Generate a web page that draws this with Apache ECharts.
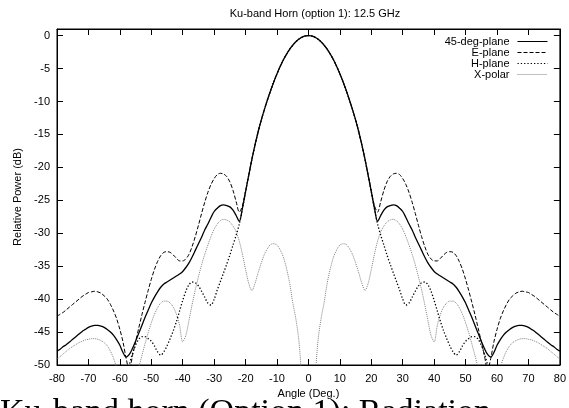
<!DOCTYPE html>
<html>
<head>
<meta charset="utf-8">
<script src="https://cdn.jsdelivr.net/npm/echarts@6/dist/echarts.min.js"></script>
<style>
html,body{margin:0;padding:0;background:#fff;}
#chart{width:569px;height:408px;}
</style>
</head>
<body>
<div id="chart"></div>
<script>
var titleText = "Ku-band Horn (option 1): 12.5 GHz";
var captionText = "Ku-band horn (Option 1): Radiation";
var xName = "Angle (Deg.)";
var yName = "Relative Power (dB)";
var seriesNames = ["45-deg-plane", "E-plane", "H-plane", "X-polar"];

var angles = [-80,-79,-78,-77,-76,-75,-74,-73,-72,-71,-70,-69,-68,-67,-66,-65,-64,-63,-62,-61,
-60,-59,-58,-57,-56,-55,-54,-53,-52,-51,-50,-49,-48,-47,-46,-45,-44,-43,-42,-41,
-40,-39,-38,-37,-36,-35,-34,-33,-32,-31,-30,-29,-28,-27,-26,-25,-24,-23,-22,-21,
-20,-19,-18,-17,-16,-15,-14,-13,-12,-11,-10,-9,-8,-7,-6,-5,-4,-3,-2,-1,
0,1,2,3,4,5,6,7,8,9,10,11,12,13,14,15,16,17,18,19,
20,21,22,23,24,25,26,27,28,29,30,31,32,33,34,35,36,37,38,39,
40,41,42,43,44,45,46,47,48,49,50,51,52,53,54,55,56,57,58,59,
60,61,62,63,64,65,66,67,68,69,70,71,72,73,74,75,76,77,78,79,80];

var plane45 = [
-47.9,-47.6,-47.2,-46.9,-46.5,-46.1,-45.7,-45.3,-44.9,-44.6,
-44.3,-44.1,-44.0,-44.0,-44.1,-44.3,-44.6,-45.0,-45.5,-46.2,
-47.0,-48.1,-48.8,-48.4,-47.5,-46.4,-45.2,-44.0,-42.8,-41.7,
-40.6,-39.7,-38.9,-38.2,-37.7,-37.4,-37.1,-36.8,-36.5,-36.2,
-35.8,-35.2,-34.5,-33.6,-32.6,-31.6,-30.6,-29.5,-28.6,-27.6,
-26.7,-26.2,-25.8,-25.7,-25.8,-26.0,-26.5,-27.3,-28.2,-26.2,
-23.7,-21.2,-18.8,-16.6,-14.6,-12.8,-11.2,-9.7,-8.3,-7.0,
-5.8,-4.7,-3.7,-2.85,-2.1,-1.47,-0.94,-0.53,-0.24,-0.06,
0,
-0.06,-0.24,-0.53,-0.94,-1.47,-2.1,-2.85,-3.7,-4.7,-5.8,
-7.0,-8.3,-9.7,-11.2,-12.8,-14.6,-16.6,-18.8,-21.2,-23.7,
-26.2,-28.2,-27.3,-26.5,-26.0,-25.8,-25.7,-25.8,-26.2,-26.7,
-27.6,-28.6,-29.5,-30.6,-31.6,-32.6,-33.6,-34.5,-35.2,-35.8,
-36.2,-36.5,-36.8,-37.1,-37.4,-37.7,-38.2,-38.9,-39.7,-40.6,
-41.7,-42.8,-44.0,-45.2,-46.4,-47.5,-48.4,-48.8,-48.1,-47.0,
-46.2,-45.5,-45.0,-44.6,-44.3,-44.1,-44.0,-44.0,-44.1,-44.3,
-44.6,-44.9,-45.3,-45.7,-46.1,-46.5,-46.9,-47.2,-47.6,-47.9];

var ePlane = [
-42.6,-42.3,-42.0,-41.6,-41.2,-40.8,-40.4,-40.0,-39.6,-39.3,
-39.0,-38.9,-38.8,-38.9,-39.1,-39.5,-40.0,-40.8,-41.8,-43.0,
-44.6,-46.5,-49.0,-50.8,-48.6,-46.5,-44.4,-42.4,-40.5,-38.7,
-37.0,-35.5,-34.3,-33.4,-32.9,-32.8,-32.9,-33.3,-33.8,-34.2,
-34.2,-33.9,-33.2,-32.0,-30.5,-28.8,-27.0,-25.3,-23.8,-22.6,
-21.7,-21.1,-20.9,-21.0,-21.4,-22.2,-23.5,-25.2,-26.8,-25.8,
-23.6,-21.2,-18.8,-16.6,-14.6,-12.8,-11.2,-9.7,-8.3,-7.0,
-5.8,-4.7,-3.7,-2.85,-2.1,-1.47,-0.94,-0.53,-0.24,-0.06,
0,
-0.06,-0.24,-0.53,-0.94,-1.47,-2.1,-2.85,-3.7,-4.7,-5.8,
-7.0,-8.3,-9.7,-11.2,-12.8,-14.6,-16.6,-18.8,-21.2,-23.6,
-25.8,-26.8,-25.2,-23.5,-22.2,-21.4,-21.0,-20.9,-21.1,-21.7,
-22.6,-23.8,-25.3,-27.0,-28.8,-30.5,-32.0,-33.2,-33.9,-34.2,
-34.2,-33.8,-33.3,-32.9,-32.8,-32.9,-33.4,-34.3,-35.5,-37.0,
-38.7,-40.5,-42.4,-44.4,-46.5,-48.6,-50.8,-49.0,-46.5,-44.6,
-43.0,-41.8,-40.8,-40.0,-39.5,-39.1,-38.9,-38.8,-38.9,-39.0,
-39.3,-39.6,-40.0,-40.4,-40.8,-41.2,-41.6,-42.0,-42.3,-42.6];

var hPlane = [
-55,-55,-55,-55,-55,-55,-55,-55,-55,-55,
-55,-55,-55,-55,-55,-55,-55,-55,-55,-55,
-55,-54,-52.0,-50.0,-48.3,-47.0,-46.1,-45.7,-45.7,-46.0,
-46.4,-47.1,-48.0,-48.5,-48.0,-47.1,-46.0,-44.8,-43.4,-41.8,
-40.2,-38.8,-37.8,-37.4,-37.5,-38.0,-38.8,-39.7,-40.6,-40.9,
-40.0,-38.6,-37.3,-36.0,-34.7,-33.3,-31.8,-30.3,-28.6,-26.3,
-23.7,-21.2,-18.8,-16.6,-14.6,-12.8,-11.2,-9.7,-8.3,-7.0,
-5.8,-4.7,-3.7,-2.85,-2.1,-1.47,-0.94,-0.53,-0.24,-0.06,
0,
-0.06,-0.24,-0.53,-0.94,-1.47,-2.1,-2.85,-3.7,-4.7,-5.8,
-7.0,-8.3,-9.7,-11.2,-12.8,-14.6,-16.6,-18.8,-21.2,-23.7,
-26.3,-28.6,-30.3,-31.8,-33.3,-34.7,-36.0,-37.3,-38.6,-40.0,
-40.9,-40.6,-39.7,-38.8,-38.0,-37.5,-37.4,-37.8,-38.8,-40.2,
-41.8,-43.4,-44.8,-46.0,-47.1,-48.0,-48.5,-48.0,-47.1,-46.4,
-46.0,-45.7,-45.7,-46.1,-47.0,-48.3,-50.0,-52.0,-54,-55,
-55,-55,-55,-55,-55,-55,-55,-55,-55,-55,
-55,-55,-55,-55,-55,-55,-55,-55,-55,-55];

var xPolar = [
-49.1,-48.7,-48.3,-47.9,-47.5,-47.2,-46.9,-46.6,-46.4,-46.2,
-46.1,-46.0,-46.0,-46.1,-46.3,-46.6,-47.1,-47.9,-49.0,-50.5,
-53,-56,-58,-58,-56,-53,-50.5,-48.6,-46.8,-45.1,
-43.6,-42.3,-41.3,-40.6,-40.3,-40.3,-40.6,-41.2,-42.3,-44.0,
-46.5,-45.5,-43.2,-40.8,-38.6,-36.6,-34.8,-33.2,-31.8,-30.5,
-29.4,-28.6,-28.1,-27.9,-28.0,-28.3,-28.9,-29.8,-31.2,-33.2,
-35.5,-37.6,-38.7,-37.6,-36.0,-34.5,-33.2,-32.3,-31.7,-31.6,
-31.8,-32.5,-33.6,-35.3,-37.5,-40.5,-43.0,-46.5,-53,-60,
-65,
-60,-53,-46.5,-43.0,-40.5,-37.5,-35.3,-33.6,-32.5,-31.8,
-31.6,-31.7,-32.3,-33.2,-34.5,-36.0,-37.6,-38.7,-37.6,-35.5,
-33.2,-31.2,-29.8,-28.9,-28.3,-28.0,-27.9,-28.1,-28.6,-29.4,
-30.5,-31.8,-33.2,-34.8,-36.6,-38.6,-40.8,-43.2,-45.5,-46.5,
-44.0,-42.3,-41.2,-40.6,-40.3,-40.3,-40.6,-41.3,-42.3,-43.6,
-45.1,-46.8,-48.6,-50.5,-53,-56,-58,-58,-56,-53,
-50.5,-49.0,-47.9,-47.1,-46.6,-46.3,-46.1,-46.0,-46.0,-46.1,
-46.2,-46.4,-46.6,-46.9,-47.2,-47.5,-47.9,-48.3,-48.7,-49.1];

function pairs(vals){ return angles.map(function(a,i){ return [a, vals[i]]; }); }

var FONT = "Liberation Sans";
var chart = echarts.init(document.getElementById('chart'), null, {renderer:'canvas'});

var lineStyles = [
  {color:'#000', width:1.3, type:'solid'},
  {color:'#000', width:1, type:[4,2]},
  {color:'#000', width:1.3, type:[1.3,2]},
  {color:'#808080', width:1, type:[1,1]}
];
var values = [plane45, ePlane, hPlane, xPolar];

var series = seriesNames.map(function(n,i){
  return {
    name:n, type:'line', data:pairs(values[i]), showSymbol:false, symbol:'none',
    smooth:0.3, clip:true, animation:false,
    lineStyle:lineStyles[i], itemStyle:{color:lineStyles[i].color},
    z: 10 - i
  };
});

var axisCommonX = {type:'value', min:-80, max:80, interval:10};
chart.setOption({
  animation:false,
  backgroundColor:'#fff',
  title:{text:titleText, left:310, top:3, textAlign:'center',
    textStyle:{fontFamily:FONT, fontSize:11, fontWeight:'normal', color:'#000'}},
  grid:{left:57, right:5, top:29, bottom:43, show:true, borderColor:'#000', borderWidth:1},
  legend:{orient:'vertical', right:21, top:36, padding:0, align:'right', itemWidth:30, itemHeight:8, itemGap:0,
    itemStyle:{opacity:0},
    lineStyle:{width:1},
    textStyle:{fontFamily:FONT, fontSize:11, color:'#000', lineHeight:11, padding:[0,3,0,0]},
    data:seriesNames.slice(),
    selectedMode:false},
  xAxis:[
    Object.assign({}, axisCommonX, {position:'bottom', name:xName, nameLocation:'middle', nameGap:9,
      nameTextStyle:{fontFamily:FONT, fontSize:11, color:'#000', verticalAlign:'top', lineHeight:11},
      axisLine:{show:true, onZero:false, lineStyle:{color:'#000', width:1}},
      axisTick:{show:true, inside:true, length:6, lineStyle:{color:'#000'}},
      axisLabel:{fontFamily:FONT, fontSize:11, color:'#000', margin:8},
      splitLine:{show:false}}),
    Object.assign({}, axisCommonX, {position:'top',
      axisLine:{show:true, onZero:false, lineStyle:{color:'#000', width:1}},
      axisTick:{show:true, inside:true, length:6, lineStyle:{color:'#000'}},
      axisLabel:{show:false}, splitLine:{show:false}})
  ],
  yAxis:[
    {type:'value', min:-50, max:1, interval:5, position:'left', name:yName, nameLocation:'middle', nameGap:34,
      nameTextStyle:{fontFamily:FONT, fontSize:11, color:'#000'},
      axisLine:{show:true, onZero:false, lineStyle:{color:'#000', width:1}},
      axisTick:{show:true, inside:true, length:6, lineStyle:{color:'#000'}},
      axisLabel:{fontFamily:FONT, fontSize:11, color:'#000', margin:7, showMaxLabel:false},
      splitLine:{show:false}},
    {type:'value', min:-50, max:1, interval:5, position:'right',
      axisLine:{show:true, onZero:false, lineStyle:{color:'#000', width:1}},
      axisTick:{show:true, inside:true, length:6, lineStyle:{color:'#000'}},
      axisLabel:{show:false}, splitLine:{show:false}}
  ],
  series:series,
  graphic:[{type:'text', left:0, top:396, style:{text:captionText, fontFamily:'Liberation Serif', fontSize:34, fill:'#000'}}]
});
</script>
</body>
</html>
